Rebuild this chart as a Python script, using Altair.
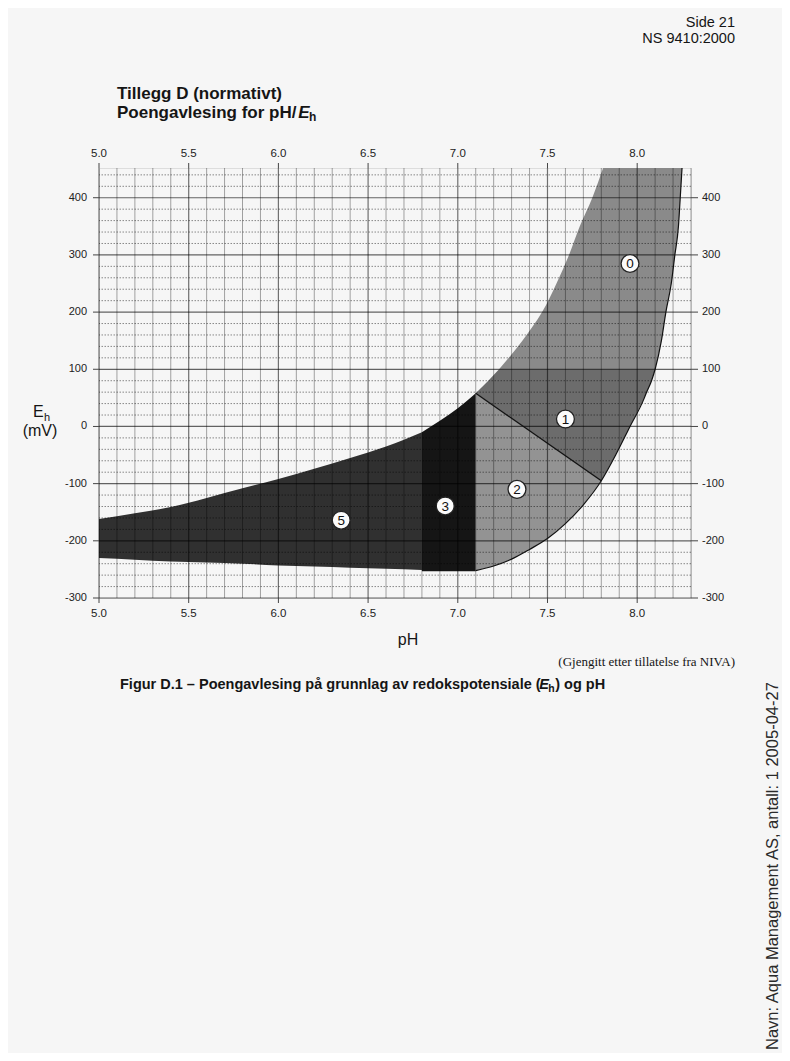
import altair as alt
import pandas as pd

# ---------------- data ----------------
tick_ph = [5.0, 5.5, 6.0, 6.5, 7.0, 7.5, 8.0]
tick_eh = [400, 300, 200, 100, 0, -100, -200, -300]

# region 5 (pH 5.0 - 6.8): upper and lower boundary
r5_ph = [5.0, 5.2, 5.4, 5.6, 5.8, 6.0, 6.2, 6.4, 6.6, 6.8]
r5_top = [-162, -152, -141, -125, -108, -92, -74, -55, -35, -10]
r5_bot = [-230, -233, -236, -238, -240, -243, -245, -247, -249, -251]

# region 3 (pH 6.8 - 7.1)
r3_ph = [6.8, 6.9, 7.0, 7.1]
r3_top = [-10, 10, 32, 58]
r3_bot = [-253, -253, -253, -253]

# region 2 (pH 7.1 - 7.8): below the diagonal line
r2_ph = [7.1, 7.2, 7.3, 7.4, 7.5, 7.6, 7.7, 7.8]
r2_top = [58, 36, 14, -8, -29, -51, -73, -95]
r2_bot = [-252, -244, -232, -215, -196, -170, -137, -95]

# region 1 (Eh -95 - 100): left / right pH boundary
r1_eh = [-95, -50, 0, 50, 58, 80, 100]
r1_left = [7.8, 7.594, 7.365, 7.137, 7.1, 7.17, 7.23]
r1_right = [7.8, 7.88, 7.96, 8.04, 8.05, 8.08, 8.10]

# region 0 (Eh 100 - top)
r0_eh = [100, 150, 200, 250, 300, 350, 400, 452]
r0_left = [7.23, 7.36, 7.47, 7.55, 7.62, 7.68, 7.75, 7.81]
r0_right = [8.10, 8.135, 8.16, 8.19, 8.21, 8.23, 8.24, 8.25]

# score labels
lab_txt = ["0", "1", "2", "3", "5"]
lab_ph = [7.96, 7.60, 7.33, 6.93, 6.35]
lab_eh = [285, 13, -110, -139, -164]

# ---------------- layout ----------------
OX, OY = 99, 168          # page position of plot origin
W, H = 592, 430
XDOM = [5.0, 8.3]
YDOM = [-300, 452]

xs = alt.Scale(domain=XDOM, nice=False, zero=False)
ys = alt.Scale(domain=YDOM, nice=False, zero=False)


def X(f):
    return alt.X(f, scale=xs, axis=None)


def Y(f):
    return alt.Y(f, scale=ys, axis=None)


SANS = "Liberation Sans"
SERIF = "Liberation Serif"

AB = {" ": 278, "(": 333, ")": 333, ".": 278, "\u2013": 556, "/": 278, "1": 556,
      "A": 722, "D": 722, "E": 667, "F": 611, "H": 722, "P": 667, "T": 611,
      "a": 556, "d": 611, "e": 556, "g": 611, "h": 611, "i": 278, "k": 556, "l": 278,
      "m": 889, "n": 611, "o": 611, "p": 611, "r": 389, "s": 556, "t": 333, "u": 611,
      "v": 556, "\u00e5": 556}


def wb(s, size):
    return sum(AB.get(c, 556) for c in s) * size / 1000.0


def txt(text, px, py, size, weight="normal", style="normal", align="left",
        font=SANS, color="#151515", angle=0, baseline="alphabetic"):
    kw = dict(fontSize=size, fontWeight=weight, fontStyle=style, align=align,
              font=font, color=color, baseline=baseline)
    if angle:
        kw["angle"] = angle
    return alt.Chart(pd.DataFrame({"t": [text]})).mark_text(**kw).encode(
        x=alt.value(px - OX), y=alt.value(py - OY), text="t:N")


layers = []


# ---- regions ----
def vband(ph, top, bot, color, interp="monotone"):
    df = pd.DataFrame({"ph": ph, "top": top, "bot": bot})
    return alt.Chart(df).mark_area(color=color, interpolate=interp, opacity=1).encode(
        x=X("ph:Q"), y=Y("top:Q"), y2="bot:Q")


def hband(eh, left, right, color, interp="monotone"):
    df = pd.DataFrame({"eh": eh, "l": left, "r": right})
    return alt.Chart(df).mark_area(color=color, orient="horizontal",
                                   interpolate=interp, opacity=1).encode(
        y=Y("eh:Q"), x=X("l:Q"), x2="r:Q")


layers.append(vband(r5_ph, r5_top, r5_bot, "#303030"))
layers.append(vband(r3_ph, r3_top, r3_bot, "#151515"))
layers.append(vband(r2_ph, r2_top, r2_bot, "#939393", interp="linear"))
layers.append(hband(r1_eh, r1_left, r1_right, "#6c6c6c", interp="linear"))
layers.append(hband(r0_eh, r0_left, r0_right, "#8a8a8a"))

# ---- grid ----
vgrid = [round(5.0 + 0.1 * i, 1) for i in range(34)]
vdf = pd.DataFrame({"ph": vgrid, "major": [abs(v * 2 - round(v * 2)) < 1e-6 for v in vgrid]})
hgrid = list(range(-300, 452, 20))
hdf = pd.DataFrame({"eh": hgrid, "major": [v % 100 == 0 for v in hgrid]})

layers.append(alt.Chart(vdf[~vdf.major]).mark_rule(color="black", opacity=0.35, strokeWidth=1).encode(
    x=X("ph:Q")))
layers.append(alt.Chart(vdf[vdf.major]).mark_rule(color="black", opacity=0.55, strokeWidth=1.2).encode(
    x=X("ph:Q")))
layers.append(alt.Chart(hdf[~hdf.major]).mark_rule(color="black", opacity=0.45, strokeWidth=1,
                                                   strokeDash=[1.5, 1.5]).encode(
    y=Y("eh:Q")))
layers.append(alt.Chart(hdf[hdf.major]).mark_rule(color="black", opacity=0.6, strokeWidth=1.2).encode(
    y=Y("eh:Q")))

# ---- outline curves ----
out_ph = r2_ph + r1_right[1:] + r0_right[1:]
out_eh = r2_bot + r1_eh[1:] + r0_eh[1:]
odf = pd.DataFrame({"ph": out_ph, "eh": out_eh, "o": list(range(len(out_ph)))})
layers.append(alt.Chart(odf).mark_line(color="#111111", strokeWidth=1.2, interpolate="monotone").encode(
    x=X("ph:Q"), y=Y("eh:Q"), order="o:Q"))
ddf = pd.DataFrame({"ph": [r2_ph[0], r2_ph[-1]], "eh": [r2_top[0], r2_top[-1]]})
layers.append(alt.Chart(ddf).mark_line(color="#111111", strokeWidth=1.3).encode(
    x=X("ph:Q"), y=Y("eh:Q")))

# ---- ticks ----
tdf_ph = pd.DataFrame({"ph": tick_ph})
tdf_eh = pd.DataFrame({"eh": tick_eh})
layers.append(alt.Chart(tdf_eh).mark_rule(color="#444", strokeWidth=1).encode(
    y=Y("eh:Q"), x=alt.value(-6), x2=alt.value(0)))
layers.append(alt.Chart(tdf_eh).mark_rule(color="#444", strokeWidth=1).encode(
    y=Y("eh:Q"), x=alt.value(W), x2=alt.value(W + 7)))
layers.append(alt.Chart(tdf_ph).mark_rule(color="#444", strokeWidth=1).encode(
    x=X("ph:Q"), y=alt.value(-5), y2=alt.value(0)))
layers.append(alt.Chart(tdf_ph).mark_rule(color="#444", strokeWidth=1).encode(
    x=X("ph:Q"), y=alt.value(H), y2=alt.value(H + 5)))

# ---- tick labels ----
tl_ph = pd.DataFrame({"ph": tick_ph, "t": [f"{v:.1f}" for v in tick_ph]})
tl_eh = pd.DataFrame({"eh": tick_eh, "t": [str(v) for v in tick_eh]})
layers.append(alt.Chart(tl_ph).mark_text(font=SANS, fontSize=11.5, color="#222", baseline="alphabetic").encode(
    x=X("ph:Q"), y=alt.value(157 - OY), text="t:N"))
layers.append(alt.Chart(tl_ph).mark_text(font=SANS, fontSize=11.5, color="#222", baseline="alphabetic").encode(
    x=X("ph:Q"), y=alt.value(617 - OY), text="t:N"))
layers.append(alt.Chart(tl_eh).mark_text(font=SANS, fontSize=11, color="#222", align="right",
                                         baseline="middle").encode(
    y=Y("eh:Q"), x=alt.value(-12), text="t:N"))
layers.append(alt.Chart(tl_eh).mark_text(font=SANS, fontSize=11, color="#222", align="left",
                                         baseline="middle").encode(
    y=Y("eh:Q"), x=alt.value(W + 11), text="t:N"))

# ---- score labels ----
ldf = pd.DataFrame({"ph": lab_ph, "eh": lab_eh, "t": lab_txt})
layers.append(alt.Chart(ldf).mark_point(shape="circle", filled=True, fill="#fbfbfb", stroke="#222",
                                        strokeWidth=1.3, size=320, opacity=1).encode(
    x=X("ph:Q"), y=Y("eh:Q")))
layers.append(alt.Chart(ldf).mark_text(font=SANS, fontSize=13.5, color="#111", baseline="middle", dy=1).encode(
    x=X("ph:Q"), y=Y("eh:Q"), text="t:N"))

# ---- page texts ----
layers.append(txt("Side 21", 735, 27, 14.5, align="right"))
layers.append(txt("NS 9410:2000", 735, 43, 14.5, align="right"))

TX, TS = 117, 17
layers.append(txt("Tillegg D (normativt)", TX, 99, TS, weight="bold"))
s1 = "Poengavlesing for pH/"
layers.append(txt(s1, TX, 118, TS, weight="bold"))
ex = TX + wb(s1, TS) - 2
layers.append(txt("E", ex, 118, TS, weight="bold", style="italic"))
layers.append(txt("h", ex + wb("E", TS) - 0.5, 121, 12, weight="bold"))

# y axis title
layers.append(txt("E", 33, 417, 16))
layers.append(txt("h", 44, 421, 11))
layers.append(txt("(mV)", 40, 436, 16, align="center"))

# x axis title
layers.append(txt("pH", 408, 645, 16, align="center"))
layers.append(txt("(Gjengitt etter tillatelse fra NIVA)", 735, 666, 13, font=SERIF, align="right"))

CS = 14.5
c1 = "Figur D.1 \u2013 Poengavlesing p\u00e5 grunnlag av redokspotensiale ("
cx = 120
layers.append(txt(c1, cx, 689, CS, weight="bold"))
cx2 = cx + wb(c1, CS) - 1.5
layers.append(txt("E", cx2, 689, CS, weight="bold", style="italic"))
cx3 = cx2 + wb("E", CS) - 0.5
layers.append(txt("h", cx3, 692, 10.5, weight="bold"))
cx4 = cx3 + 611 * 10.5 / 1000 + 0.5
layers.append(txt(") og pH", cx4, 689, CS, weight="bold"))

# rotated margin text
layers.append(txt("Navn: Aqua Management AS, antall: 1 2005-04-27", 778, 1050, 16.5, angle=270,
                  color="#2a2a2a"))

chart = alt.layer(*layers).properties(
    width=W, height=H,
    padding={"left": OX - 8, "top": OY - 8, "right": 790 - 16 - (OX - 8) - W,
             "bottom": 1061 - 16 - (OY - 8) - H},
    autosize=alt.AutoSizeParams(type="none"),
).configure_view(stroke="#444", strokeWidth=1.2).configure(background="#f6f6f6")

chart.save("out.html", embed_options={"renderer": "svg", "actions": False})
